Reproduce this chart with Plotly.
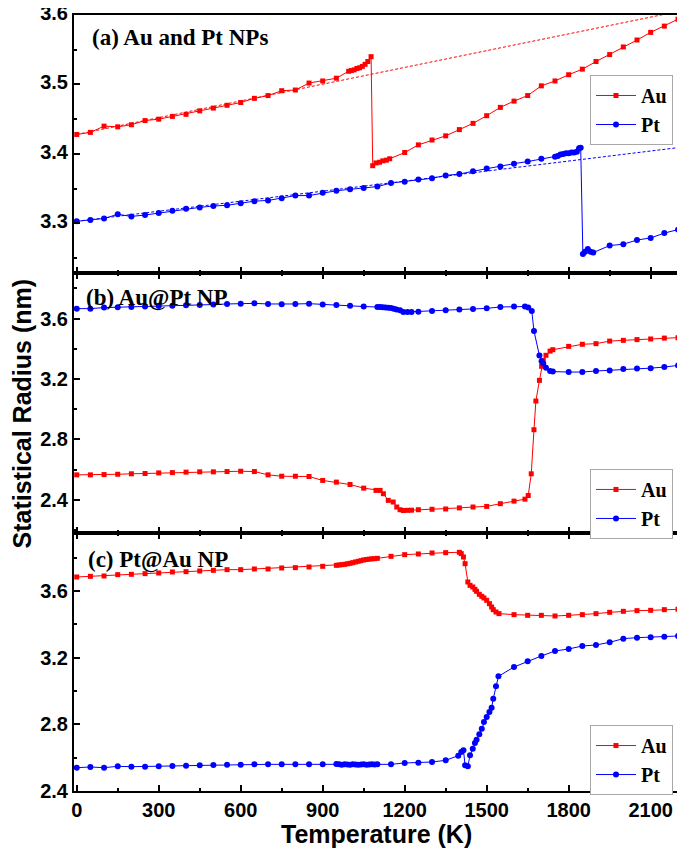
import plotly.graph_objects as go

# ---------------- data ----------------
# (a) Au and Pt NPs
a_au_T = [0, 50, 100, 150, 200, 250, 300, 350, 400, 450, 500, 550, 600, 650, 700, 750, 800, 850, 900, 950,
          995, 1005, 1015, 1025, 1035, 1045, 1055, 1065, 1077,
          1083, 1095, 1108, 1120, 1133, 1145,
          1200, 1250, 1300, 1350, 1400, 1450, 1500, 1550, 1600, 1650, 1700, 1750, 1800, 1850, 1900,
          1950, 2000, 2050, 2100, 2150, 2200]
a_au_R = [3.428, 3.431, 3.440, 3.439, 3.442, 3.448, 3.450, 3.454, 3.457, 3.462, 3.466, 3.470, 3.474, 3.480,
          3.484, 3.491, 3.492, 3.502, 3.505, 3.509,
          3.519, 3.520, 3.521, 3.523, 3.524, 3.526, 3.529, 3.533, 3.540,
          3.383, 3.387, 3.388, 3.390, 3.391, 3.393,
          3.402, 3.413, 3.420, 3.426, 3.435, 3.444, 3.455, 3.467, 3.476, 3.484, 3.498, 3.505, 3.514, 3.522,
          3.533, 3.543, 3.554, 3.564, 3.575, 3.584, 3.594]
a_pt_T = [0, 50, 100, 150, 200, 250, 300, 350, 400, 450, 500, 550, 600, 650, 700, 750, 800, 850, 900, 950,
          1000, 1050, 1100, 1150, 1200, 1250, 1300, 1350, 1400, 1450, 1500, 1550, 1600, 1650, 1700, 1750,
          1760, 1770, 1780, 1790, 1800, 1810, 1820, 1830, 1838, 1844,
          1852, 1860, 1870, 1880, 1890,
          1950, 2000, 2050, 2100, 2150, 2200]
a_pt_R = [3.303, 3.305, 3.307, 3.313, 3.310, 3.312, 3.315, 3.318, 3.321, 3.323, 3.325, 3.326, 3.329, 3.332,
          3.333, 3.336, 3.340, 3.340, 3.344, 3.347,
          3.349, 3.351, 3.353, 3.358, 3.360, 3.363, 3.365, 3.369, 3.371, 3.375, 3.379, 3.382, 3.386, 3.389,
          3.393, 3.396,
          3.397, 3.399, 3.400, 3.401, 3.401, 3.402, 3.402, 3.403, 3.408, 3.409,
          3.256, 3.259, 3.263, 3.259, 3.258,
          3.268, 3.270, 3.276, 3.279, 3.286, 3.291]
# linear (solid-phase) fits, dashed
a_au_fit_T = [0, 2200]
a_au_fit_R = [3.428, 3.605]
a_pt_fit_T = [0, 2200]
a_pt_fit_R = [3.303, 3.409]

# (b) Au@Pt NP
b_au_T = [0, 50, 100, 150, 200, 250, 300, 350, 400, 450, 500, 550, 600, 650, 700, 750, 800, 850, 900, 950,
          1000, 1050, 1095, 1110, 1122, 1140, 1158, 1171, 1183, 1195, 1210, 1225, 1250,
          1300, 1350, 1400, 1450, 1500, 1550, 1600, 1640, 1652, 1663, 1673, 1680, 1693, 1701, 1707, 1717,
          1732, 1742, 1800, 1850, 1900, 1950, 2000, 2050, 2100, 2150, 2200]
b_au_R = [2.565, 2.565, 2.567, 2.569, 2.572, 2.574, 2.578, 2.580, 2.583, 2.585, 2.585, 2.587, 2.589, 2.587,
          2.565, 2.556, 2.556, 2.554, 2.528, 2.517,
          2.501, 2.477, 2.462, 2.462, 2.440, 2.396, 2.385, 2.352, 2.334, 2.329, 2.330, 2.331, 2.334,
          2.337, 2.339, 2.346, 2.352, 2.356, 2.374, 2.391, 2.404, 2.428, 2.572, 2.864, 3.054, 3.191, 3.284,
          3.323, 3.357,
          3.385, 3.394, 3.416, 3.430, 3.434, 3.451, 3.456, 3.461, 3.465, 3.471, 3.474]
b_pt_T = [0, 50, 100, 150, 200, 250, 300, 350, 400, 450, 500, 550, 600, 650, 700, 750, 800, 850, 900, 950,
          1000, 1050, 1100, 1110, 1120, 1130, 1140, 1150, 1160, 1170, 1183, 1195, 1210, 1225, 1250,
          1300, 1350, 1400, 1450, 1500, 1550, 1600, 1640, 1652, 1665, 1673, 1693, 1701, 1707, 1717,
          1732, 1742, 1800, 1850, 1900, 1950, 2000, 2050, 2100, 2150, 2200]
b_pt_R = [3.666, 3.666, 3.673, 3.675, 3.677, 3.680, 3.684, 3.686, 3.688, 3.690, 3.693, 3.697, 3.699, 3.701,
          3.697, 3.695, 3.697, 3.699, 3.693, 3.690,
          3.686, 3.680, 3.677, 3.677, 3.676, 3.674, 3.672, 3.670, 3.665, 3.660, 3.655, 3.643, 3.644,
          3.644, 3.646,
          3.651, 3.655, 3.660, 3.664, 3.668, 3.677, 3.680, 3.680, 3.673, 3.651, 3.518, 3.355, 3.317,
          3.302, 3.275,
          3.253, 3.249, 3.246, 3.246, 3.253, 3.257, 3.266, 3.270, 3.272, 3.279, 3.290]

# (c) Pt@Au NP
c_au_T = [0, 50, 100, 150, 200, 250, 300, 350, 400, 450, 500, 550, 600, 650, 700, 750, 800, 850, 900, 950,
          960, 970, 980, 990, 1000, 1010, 1020, 1030, 1040, 1050, 1060, 1070, 1080, 1090, 1100,
          1150, 1200, 1250, 1300, 1350, 1400, 1407, 1415, 1421, 1431, 1439, 1449, 1457, 1463, 1473,
          1482, 1490, 1500, 1510, 1518, 1524, 1534, 1545,
          1600, 1650, 1700, 1750, 1800, 1850, 1900, 1950, 2000, 2050, 2100, 2150, 2200]
c_au_R = [3.684, 3.688, 3.690, 3.698, 3.700, 3.704, 3.708, 3.714, 3.716, 3.720, 3.724, 3.728, 3.728, 3.732,
          3.732, 3.738, 3.740, 3.744, 3.748, 3.754,
          3.756, 3.758, 3.760, 3.763, 3.766, 3.770, 3.774, 3.778, 3.782, 3.786, 3.789, 3.791, 3.793,
          3.794, 3.796,
          3.808, 3.818, 3.822, 3.828, 3.830, 3.832, 3.824, 3.804, 3.764, 3.654, 3.634, 3.624, 3.610,
          3.598, 3.580,
          3.568, 3.558, 3.544, 3.524, 3.504, 3.488, 3.474, 3.464,
          3.458, 3.454, 3.454, 3.450, 3.454, 3.458, 3.464, 3.472, 3.478, 3.482, 3.484, 3.488, 3.490]
c_pt_T = [0, 50, 100, 150, 200, 250, 300, 350, 400, 450, 500, 550, 600, 650, 700, 750, 800, 850, 900, 950,
          960, 970, 980, 990, 1000, 1010, 1020, 1030, 1040, 1050, 1060, 1070, 1080, 1090, 1100,
          1150, 1200, 1250, 1300, 1350, 1396, 1407, 1415, 1421, 1431, 1439, 1449, 1457, 1463, 1473,
          1482, 1490, 1500, 1510, 1518, 1524, 1534, 1543,
          1600, 1650, 1700, 1750, 1800, 1850, 1900, 1950, 2000, 2050, 2100, 2150, 2200]
c_pt_R = [2.540, 2.544, 2.540, 2.548, 2.546, 2.546, 2.548, 2.550, 2.552, 2.554, 2.556, 2.558, 2.558, 2.560,
          2.560, 2.560, 2.560, 2.560, 2.560, 2.562,
          2.560, 2.558, 2.560, 2.559, 2.558, 2.560, 2.559, 2.558, 2.559, 2.560, 2.558, 2.559, 2.560,
          2.559, 2.560,
          2.560, 2.568, 2.570, 2.574, 2.584, 2.612, 2.634, 2.644, 2.554, 2.548, 2.614, 2.654, 2.688,
          2.708, 2.740,
          2.774, 2.814, 2.844, 2.874, 2.900, 2.954, 3.028, 3.088,
          3.144, 3.178, 3.210, 3.240, 3.252, 3.270, 3.276, 3.292, 3.314, 3.320, 3.322, 3.326, 3.330]

panel_labels = ["(a) Au and Pt NPs", "(b) Au@Pt NP", "(c) Pt@Au NP"]
x_title = "Temperature (K)"
y_title = "Statistical Radius (nm)"

RED = "#FF0000"
BLUE = "#0000FF"

# ---------------- figure ----------------
fig = go.Figure()


def add_series(T, R, name, color, symbol, size, n, legend):
    sfx = "" if n == 1 else str(n)
    fig.add_trace(go.Scatter(
        x=T, y=R, mode="lines+markers", name=name,
        line=dict(color=color, width=1),
        marker=dict(symbol=symbol, size=size, color=color, line=dict(width=0)),
        xaxis="x" + sfx, yaxis="y" + sfx, legend=legend, showlegend=True))


def add_fit(T, R, color, n):
    sfx = "" if n == 1 else str(n)
    fig.add_trace(go.Scatter(
        x=T, y=R, mode="lines", line=dict(color=color, width=1, dash="3px,2px"),
        xaxis="x" + sfx, yaxis="y" + sfx, showlegend=False, hoverinfo="skip"))


add_fit(a_au_fit_T, a_au_fit_R, RED, 1)
add_fit(a_pt_fit_T, a_pt_fit_R, BLUE, 1)
add_series(a_au_T, a_au_R, "Au", RED, "square", 5, 1, "legend")
add_series(a_pt_T, a_pt_R, "Pt", BLUE, "circle", 6, 1, "legend")
add_series(b_au_T, b_au_R, "Au", RED, "square", 5, 2, "legend2")
add_series(b_pt_T, b_pt_R, "Pt", BLUE, "circle", 6, 2, "legend2")
add_series(c_au_T, c_au_R, "Au", RED, "square", 5, 3, "legend3")
add_series(c_pt_T, c_pt_R, "Pt", BLUE, "circle", 6, 3, "legend3")

tickfont = dict(family="Liberation Sans, Arial", size=20, color="black", weight="bold")

doms = [[0.6675, 1.0], [0.3325, 0.6675], [0.0, 0.3325]]
yranges = [[3.2285, 3.6], [2.18, 3.902], [2.4, 3.948]]
ydt = [0.1, 0.4, 0.4]
yshift = [-2, 0, 0]

# the page body adds an 8px offset, so the figure is 8px smaller and margins compensate
layout = dict(
    width=677, height=845,
    margin=dict(l=66, r=7, t=7, b=62, autoexpand=False),
    plot_bgcolor="white", paper_bgcolor="white",
    font=dict(family="Liberation Sans, Arial", color="black"),
)

for i in range(3):
    n = i + 1
    sfx = "" if n == 1 else str(n)
    layout["xaxis" + sfx] = dict(
        domain=[0, 1], anchor="y" + sfx, range=[-10, 2200], automargin=False,
        tick0=0, dtick=300, ticks="inside", ticklen=6, tickwidth=1.5, tickcolor="black",
        minor=dict(dtick=150, ticks="inside", ticklen=3, tickwidth=1.5, tickcolor="black"),
        showline=True, linewidth=2, linecolor="black",
        mirror=True if n == 1 else "ticks",
        showgrid=False, zeroline=False, ticklabeloverflow="allow",
        showticklabels=(n == 3), tickfont=tickfont,
    )
    layout["yaxis" + sfx] = dict(
        domain=doms[i], anchor="x" + sfx, range=yranges[i], automargin=False,
        tick0=0, dtick=ydt[i], ticks="inside", ticklen=6, tickwidth=1.5, tickcolor="black",
        minor=dict(dtick=ydt[i] / 2, ticks="inside", ticklen=3, tickwidth=1.5, tickcolor="black"),
        showline=True, linewidth=2, linecolor="black", mirror=True,
        showgrid=False, zeroline=False, tickfont=tickfont, tickformat=".1f",
        ticklabeloverflow="allow", ticklabelshift=yshift[i],
    )

legend_common = dict(
    xanchor="right", x=0.9917, yanchor="top",
    font=dict(family="Liberation Serif, Times New Roman", size=20, color="black", weight="bold"),
    bordercolor="#a8a8a8", borderwidth=1, bgcolor="white",
    itemwidth=40, tracegroupgap=0,
)
layout["legend"] = dict(legend_common, y=0.9227)
layout["legend2"] = dict(legend_common, y=0.415)
layout["legend3"] = dict(legend_common, y=0.085)

fig.update_layout(**layout)

label_pos = [(0.027, 0.97), (0.017, 0.96), (0.020, 0.953)]
for i, txt in enumerate(panel_labels):
    n = i + 1
    sfx = "" if n == 1 else str(n)
    fig.add_annotation(
        text=txt, xref="x" + sfx + " domain", yref="y" + sfx + " domain",
        x=label_pos[i][0], y=label_pos[i][1], xanchor="left", yanchor="top", showarrow=False,
        font=dict(family="Liberation Serif, Times New Roman", size=23, color="black", weight="bold"))

fig.add_annotation(text=x_title, xref="paper", yref="paper", x=0.5008, y=-0.055,
                   xanchor="center", yanchor="middle", showarrow=False,
                   font=dict(family="Liberation Sans, Arial", size=25, color="black", weight="bold"))
fig.add_annotation(text=y_title, xref="paper", yref="paper", x=-0.0855, y=0.487,
                   xanchor="center", yanchor="middle", textangle=-90, showarrow=False,
                   font=dict(family="Liberation Sans, Arial", size=25, color="black", weight="bold"))

fig.write_html("out.html")
